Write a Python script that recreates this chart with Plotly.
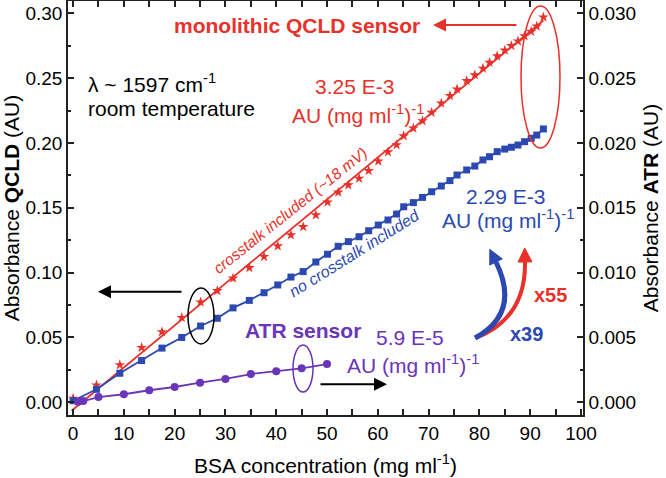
import plotly.graph_objects as go

# ---------------- data ----------------
x_qcld = [0.0, 4.6, 9.2, 13.5, 17.5, 21.4, 25.1, 28.4, 31.5, 34.7, 37.6, 40.3, 42.9,
          45.3, 47.8, 50.1, 52.2, 54.2, 56.3, 58.2, 60.1, 62.0, 63.7, 65.1, 67.0, 68.8,
          70.6, 72.5, 74.2, 75.6, 77.5, 79.1, 80.7, 82.0, 83.5, 85.0, 86.3, 87.6, 88.9,
          90.2, 91.3, 92.6]
y_qcld_crosstalk = [0.0030, 0.0132, 0.0288, 0.0421, 0.0543, 0.0653, 0.0772, 0.0860,
                    0.0956, 0.1037, 0.1123, 0.1205, 0.1290, 0.1354, 0.1444, 0.1543,
                    0.1620, 0.1676, 0.1727, 0.1786, 0.1860, 0.1930, 0.1985, 0.2054,
                    0.2113, 0.2170, 0.2235, 0.2306, 0.2365, 0.2415, 0.2480, 0.2524,
                    0.2575, 0.2620, 0.2670, 0.2715, 0.2750, 0.2785, 0.2825, 0.2860,
                    0.2900, 0.2970]
y_qcld_nocrosstalk = [0.0012, 0.0100, 0.0224, 0.0322, 0.0418, 0.0500, 0.0588, 0.0648,
                      0.0728, 0.0786, 0.0845, 0.0905, 0.0966, 0.1008, 0.1082, 0.1142,
                      0.1203, 0.1239, 0.1277, 0.1323, 0.1367, 0.1406, 0.1452, 0.1508,
                      0.1540, 0.1580, 0.1624, 0.1668, 0.1710, 0.1753, 0.1792, 0.1822,
                      0.1869, 0.1894, 0.1933, 0.1953, 0.1967, 0.1984, 0.2010, 0.2036,
                      0.2061, 0.2108]
x_fit_crosstalk = [-0.3, 92.6]
y_fit_crosstalk = [-0.0065, 0.2945]

x_atr = [1, 2, 5, 10, 15, 20, 25, 30, 35, 40, 45, 50]
y_atr = [0.00005, 0.0001, 0.0004, 0.00062, 0.00093, 0.00118, 0.00151, 0.0018,
         0.00218, 0.00239, 0.00262, 0.00295]

x_tickvals = [0, 10, 20, 30, 40, 50, 60, 70, 80, 90, 100]
y_left_tickvals = [0.00, 0.05, 0.10, 0.15, 0.20, 0.25, 0.30]
y_right_tickvals = [0.000, 0.005, 0.010, 0.015, 0.020, 0.025, 0.030]

# ---------------- styling ----------------
RED = "#e8312a"
BLUE = "#2b49b0"
PURPLE = "#6a35b8"
AX = "#222222"
FONT = "Liberation Sans, Arial, sans-serif"
W, H = 666, 478
L, R, T, B = 68, 583, 1, 415


def P(xp, yp):
    return (xp - L) / (R - L), (B - yp) / (B - T)


fig = go.Figure()
fig.add_trace(go.Scatter(x=x_fit_crosstalk, y=y_fit_crosstalk, mode="lines",
                         line=dict(color=RED, width=1.8), hoverinfo="skip"))
fig.add_trace(go.Scatter(x=x_qcld, y=y_qcld_crosstalk, mode="markers",
                         marker=dict(symbol="star", size=8, color=RED)))
fig.add_trace(go.Scatter(x=x_qcld, y=y_qcld_nocrosstalk, mode="lines+markers",
                         line=dict(color=BLUE, width=1.8),
                         marker=dict(symbol="square", size=7, color=BLUE)))
fig.add_trace(go.Scatter(x=x_atr, y=y_atr, yaxis="y2", mode="lines+markers",
                         line=dict(color=PURPLE, width=1.8),
                         marker=dict(symbol="circle", size=8, color=PURPLE)))

ann = []


def txt(xp, yp, text, color, size=21, xanchor="center", angle=0):
    x, y = P(xp, yp)
    ann.append(dict(xref="paper", yref="paper", x=x, y=y, text=text, showarrow=False,
                    xanchor=xanchor, yanchor="middle", textangle=angle,
                    font=dict(family=FONT, size=size, color=color)))


def arrow(xh, yh, xt, yt, color):
    x, y = P(xh, yh)
    ann.append(dict(xref="paper", yref="paper", x=x, y=y, ax=xt - xh, ay=yt - yh,
                    axref="pixel", ayref="pixel", text="", showarrow=True,
                    arrowhead=2, arrowsize=1.3, arrowwidth=2, arrowcolor=color))


txt(297, 25, "<b>monolithic QCLD sensor</b>", RED)
txt(86, 83, "λ ~ 1597 cm<sup>-1</sup>", "black", xanchor="left")
txt(86, 108, "room temperature", "black", xanchor="left")
txt(354.5, 86.7, "3.25 E-3", RED)
txt(357.5, 114, "AU (mg ml<sup>-1</sup>)<sup>-1</sup>", RED)
txt(505.5, 196.7, "2.29 E-3", BLUE)
txt(508.3, 219, "AU (mg ml<sup>-1</sup>)<sup>-1</sup>", BLUE)
txt(303, 330, "<b>ATR sensor</b>", PURPLE)
txt(410.3, 337.3, "5.9 E-5", PURPLE)
txt(413.3, 364, "AU (mg ml<sup>-1</sup>)<sup>-1</sup>", PURPLE)
txt(290, 210, "<i>crosstalk included (~18 mV)</i>", RED, size=15.5, angle=-38.6)
txt(354, 253, "<i>no crosstalk included</i>", BLUE, size=16, angle=-32)
txt(550, 295, "<b>x55</b>", RED, size=20)
txt(526, 334, "<b>x39</b>", BLUE, size=20)

arrow(433, 25, 518, 25, RED)
arrow(98, 291.7, 183, 291.7, "black")
arrow(387, 384.3, 319, 384.3, "black")

shapes = []


def ellipse(x0p, y0p, x1p, y1p, color):
    x0, y0 = P(x0p, y1p)
    x1, y1 = P(x1p, y0p)
    shapes.append(dict(type="circle", xref="paper", yref="paper", x0=x0, y0=y0,
                       x1=x1, y1=y1, line=dict(color=color, width=1.5)))


ellipse(521, 6, 560, 148, RED)
ellipse(188, 288, 214, 344, "black")
ellipse(293, 345, 313, 392, PURPLE)


def curve(p0, c, p1, color, width, head=14, half=7):
    a = P(*p0)
    b = P(*c)
    e = P(*p1)
    shapes.append(dict(type="path", xref="paper", yref="paper",
                       path=f"M {a[0]},{a[1]} Q {b[0]},{b[1]} {e[0]},{e[1]}",
                       line=dict(color=color, width=width)))
    dx, dy = p1[0] - c[0], p1[1] - c[1]
    n = (dx * dx + dy * dy) ** 0.5
    ux, uy = dx / n, dy / n
    tip = (p1[0] + ux * head, p1[1] + uy * head)
    c1 = (p1[0] - uy * half, p1[1] + ux * half)
    c2 = (p1[0] + uy * half, p1[1] - ux * half)
    t, k1, k2 = P(*tip), P(*c1), P(*c2)
    shapes.append(dict(type="path", xref="paper", yref="paper",
                       path=f"M {t[0]},{t[1]} L {k1[0]},{k1[1]} L {k2[0]},{k2[1]} Z",
                       fillcolor=color, line=dict(color=color, width=1)))


curve((476, 338), (526, 318), (525, 262), RED, 4)
curve((475, 338), (521, 313), (496, 262), BLUE, 5)

tickfont = dict(family=FONT, size=19, color="black")
titlefont = dict(family=FONT, size=21, color="black")
common = dict(ticks="inside", ticklen=6, tickwidth=1.5, tickcolor=AX, showline=True,
              linecolor=AX, linewidth=1.5, showgrid=False, zeroline=False,
              tickfont=tickfont)

fig.update_layout(
    width=W, height=H, showlegend=False, plot_bgcolor="white", paper_bgcolor="white",
    margin=dict(l=L, r=W - R, t=T, b=H - B, autoexpand=False),
    font=dict(family=FONT),
    xaxis=dict(range=[-1, 100.4], tickmode="array", tickvals=x_tickvals,
               mirror="allticks",
               minor=dict(ticks="inside", dtick=5, tick0=0, ticklen=3.5, tickwidth=1.5,
                          tickcolor=AX),
               title=dict(text="BSA concentration (mg ml<sup>-1</sup>)", font=titlefont,
                          standoff=16),
               **common),
    yaxis=dict(range=[-0.0098, 0.3095], tickmode="array", tickvals=y_left_tickvals,
               tickformat=".2f",
               minor=dict(ticks="inside", dtick=0.025, tick0=0, ticklen=3.5,
                          tickwidth=1.5, tickcolor=AX),
               title=dict(text="Absorbance <b>QCLD</b> (AU)", font=titlefont, standoff=5),
               **common),
    yaxis2=dict(range=[-0.00098, 0.03095], overlaying="y", side="right",
                tickmode="array", tickvals=y_right_tickvals, tickformat=".3f",
                minor=dict(ticks="inside", dtick=0.0025, tick0=0, ticklen=3.5,
                           tickwidth=1.5, tickcolor=AX),
                title=dict(text="Absorbance <b>ATR</b> (AU)", font=titlefont, standoff=8),
                **common),
    annotations=ann,
    shapes=shapes,
)

fig.write_html("out.html", config={"displayModeBar": False},
               post_script="document.body.style.margin='0';"
                           "document.body.style.overflow='hidden';")
